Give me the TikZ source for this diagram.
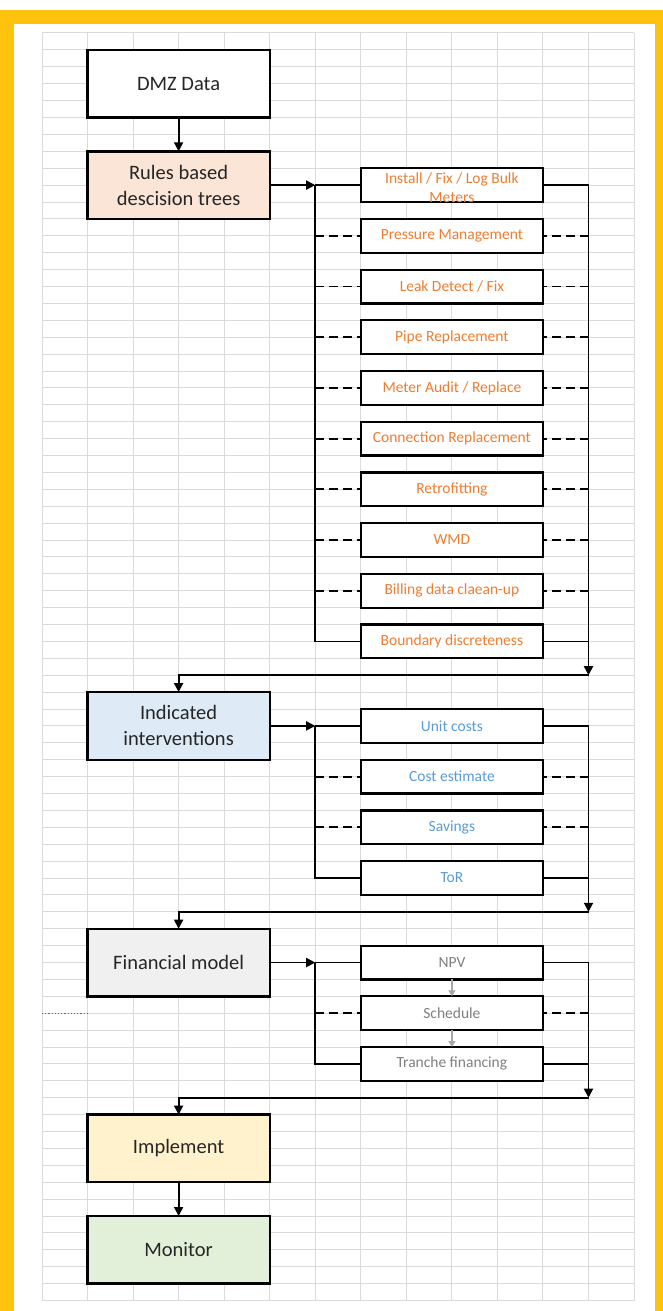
\documentclass[tikz,border=0pt]{standalone}
\usepackage{fontspec}
\setmainfont{Carlito}
\usepackage{tikz}
\usetikzlibrary{positioning,arrows.meta}
\usepackage{xcolor}

\definecolor{frameyellow}{HTML}{FFC20E}
\definecolor{sheetgray}{HTML}{DADADA}
\definecolor{peach}{HTML}{FBE5D6}
\definecolor{paleblue}{HTML}{DEEBF7}
\definecolor{palegray}{HTML}{F0F0F0}
\definecolor{palecream}{HTML}{FFF2CC}
\definecolor{palegreen}{HTML}{E2F0D9}
\definecolor{taskorange}{HTML}{ED7D31}
\definecolor{taskblue}{HTML}{5B9BD5}
\definecolor{taskgray}{HTML}{7F7F7F}
\definecolor{inkgray}{HTML}{262626}

\tikzset{
  sheetline/.style={sheetgray,line width=1pt},
  stage/.style={draw=black,line width=2.4pt,minimum width=182.2pt,minimum height=67.6pt,
    inner sep=0pt,outer sep=0pt,align=center,text=inkgray,font=\fontsize{20.5}{26}\selectfont},
  task/.style={draw=black,line width=2.2pt,fill=white,minimum width=182.2pt,minimum height=33.8pt,
    inner sep=0pt,outer sep=0pt,align=center,font=\fontsize{15.5}{19}\selectfont},
  flow/.style={line width=1.8pt},
  option/.style={line width=1.8pt,dash pattern=on 9pt off 5pt},
  substep/.style={draw=black!35,line width=1.3pt,-{Stealth[length=6pt,width=7pt,inset=0pt]}},
}

\begin{document}
\begin{tikzpicture}[x=1pt,y=-1pt,>={Stealth[length=9pt,width=9pt,inset=0pt]},node distance=16.9pt and 91.1pt]
% frame and spreadsheet grid
\useasboundingbox (0,0) rectangle (663,1311);
\fill[frameyellow] (0,10) rectangle (663,1311);
\fill[white] (14,24) rectangle (655,1311);
\foreach \c in {0,...,13}
  \draw[sheetline] (42+45.54*\c,33) -- (42+45.54*\c,1300.5);
\foreach \r in {0,...,75}
  \draw[sheetline] (42,33+16.9*\r) -- (634,33+16.9*\r);

% main column
\node[stage,fill=white] (dmz) at (178.6,83.7) {DMZ Data};
\node[stage,fill=peach] (rules) at (178.6,185.1) {Rules based\\descision trees};
\node[stage,fill=paleblue] (ind) at (178.6,725.9) {Indicated\\interventions};
\node[stage,fill=palegray] (fin) at (178.6,962.5) {Financial model};
\node[stage,fill=palecream] (impl) at (178.6,1148.4) {Implement};
\node[stage,fill=palegreen] (mon) at (178.6,1249.8) {Monitor};

% interventions
\node[task,text=taskorange,text height=33.8pt,text depth=0pt] (inst) [right=of rules] {Install / Fix / Log Bulk\\Meters};
\node[task,text=taskorange] (press) [below=of inst] {Pressure Management};
\node[task,text=taskorange] (leak) [below=of press] {Leak Detect / Fix};
\node[task,text=taskorange] (pipe) [below=of leak] {Pipe Replacement};
\node[task,text=taskorange] (meter) [below=of pipe] {Meter Audit / Replace};
\node[task,text=taskorange] (conn) [below=of meter] {Connection Replacement};
\node[task,text=taskorange] (retro) [below=of conn] {Retrofitting};
\node[task,text=taskorange] (wmd) [below=of retro] {WMD};
\node[task,text=taskorange] (bill) [below=of wmd] {Billing data claean-up};
\node[task,text=taskorange] (bound) [below=of bill] {Boundary discreteness};

% costing
\node[task,text=taskblue] (unit) [right=of ind] {Unit costs};
\node[task,text=taskblue] (cost) [below=of unit] {Cost estimate};
\node[task,text=taskblue] (sav) [below=of cost] {Savings};
\node[task,text=taskblue] (tor) [below=of sav] {ToR};

% finance
\node[task,text=taskgray] (npv) [right=of fin] {NPV};
\node[task,text=taskgray] (sched) [below=of npv] {Schedule};
\node[task,text=taskgray] (tranche) [below=of sched] {Tranche financing};

% bus junctions
\coordinate (lb1) at (315.2,185.1);
\coordinate (ret1) at (588.5,675.2);
\coordinate (lb2) at (315.2,725.9);
\coordinate (ret2) at (588.5,911.8);
\coordinate (lb3) at (315.2,962.5);
\coordinate (ret3) at (588.5,1097.7);

\draw[flow,->] (dmz) -- (rules);
\draw[flow,->] (rules) -- (lb1);
\draw[flow] (lb1) -- (inst);
\draw[flow] (lb1) |- (bound);
\draw[flow,->] (inst) -| (ret1);
\draw[flow] (bound) -- (ret1 |- bound);
\foreach \n in {press,leak,pipe,meter,conn,retro,wmd,bill} {
  \draw[option] (lb1 |- \n) -- (\n);
  \draw[option] (ret1 |- \n) -- (\n);
}
\draw[flow,->] (ret1) -| (ind);

\draw[flow,->] (ind) -- (lb2);
\draw[flow] (lb2) -- (unit);
\draw[flow] (lb2) |- (tor);
\draw[flow,->] (unit) -| (ret2);
\draw[flow] (tor) -- (ret2 |- tor);
\foreach \n in {cost,sav} {
  \draw[option] (lb2 |- \n) -- (\n);
  \draw[option] (ret2 |- \n) -- (\n);
}
\draw[flow,->] (ret2) -| (fin);

\draw[flow,->] (fin) -- (lb3);
\draw[flow] (lb3) -- (npv);
\draw[flow] (lb3) |- (tranche);
\draw[flow,->] (npv) -| (ret3);
\draw[flow] (tranche) -- (ret3 |- tranche);
\draw[option] (lb3 |- sched) -- (sched);
\draw[option] (ret3 |- sched) -- (sched);
\draw[substep] (npv) -- (sched);
\draw[substep] (sched) -- (tranche);
\draw[flow,->] (ret3) -| (impl);
\draw[flow,->] (impl) -- (mon);

\draw[black!60,line width=1.2pt,dotted] (42,1013.2) -- (87.5,1013.2);
\end{tikzpicture}
\end{document}
